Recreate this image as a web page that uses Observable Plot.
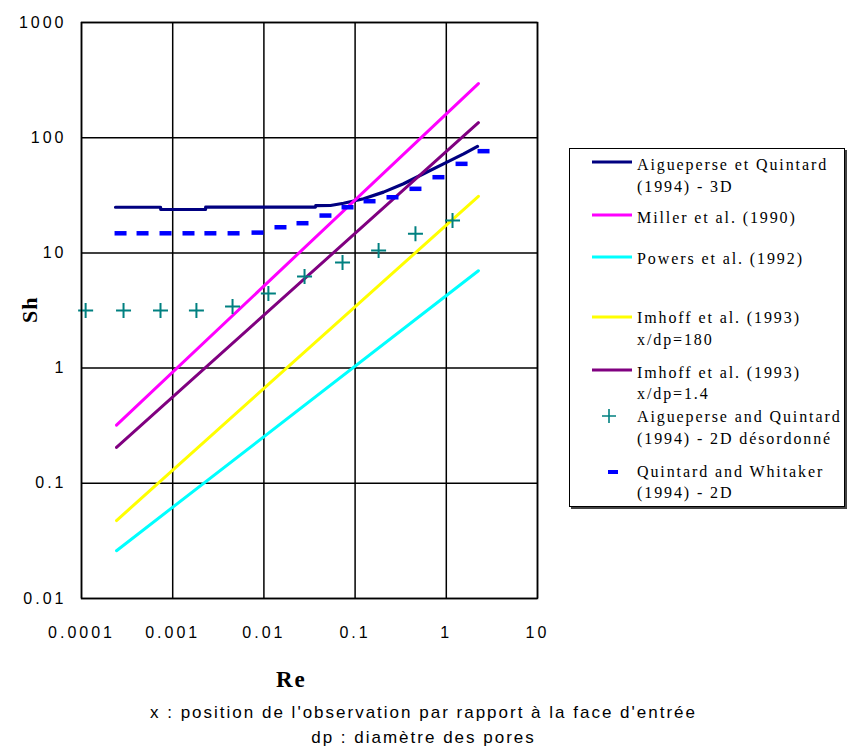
<!DOCTYPE html>
<html><head><meta charset="utf-8">
<script src="https://cdn.jsdelivr.net/npm/d3@7"></script>
<script src="https://cdn.jsdelivr.net/npm/@observablehq/plot@0.6"></script>
<style>
body{margin:0;background:#fff;}
#wrap{position:relative;width:847px;height:749px;overflow:hidden;font-family:"Liberation Sans",Arial,sans-serif;color:#000;}
#chart{position:absolute;left:0;top:0;}
#chart g[aria-label="x-axis tick label"] text,#chart g[aria-label="y-axis tick label"] text{letter-spacing:3px;}
.lbl{position:absolute;white-space:nowrap;}
.leg{position:absolute;white-space:nowrap;font-family:"Liberation Serif","Times New Roman",serif;font-size:16px;letter-spacing:1.9px;line-height:20px;}
#legendBox{position:absolute;left:569px;top:148px;width:276px;height:359px;border:1px solid #000;box-shadow:2px 2px 0 #444;box-sizing:border-box;}
.foot{position:absolute;width:847px;left:-2px;text-align:center;font-size:17px;letter-spacing:2px;line-height:20px;}
</style></head>
<body><div id="wrap"><div id="chart"></div></div>
<script>
// ---- data ----
const xTicks = [0.0001, 0.001, 0.01, 0.1, 1, 10];
const yTicks = [0.01, 0.1, 1, 10, 100, 1000];

const aq3dRe = [2.36e-4, 7.35e-4, 7.4e-4, 2.29e-3, 2.3e-3, 0.0368, 0.037, 0.0537, 0.0747, 0.124, 0.205, 0.340, 0.563, 0.932, 1.55, 2.20];
const aq3dSh = [24.9, 24.9, 23.8, 23.8, 25.0, 25.0, 25.7, 25.8, 27.0, 29.5, 33.7, 39.8, 48.6, 59.3, 72.4, 84];

const lawRe = [2.42e-4, 2.25];
const millerSh = [0.32, 295];
const powersSh = [0.026, 7.0];
const imhoff180Sh = [0.0475, 31];
const imhoff14Sh = [0.205, 135];

const aq2dRe = [1.11e-4, 2.89e-4, 7.35e-4, 1.82e-3, 4.53e-3, 0.0112, 0.0279, 0.0728, 0.181, 0.459, 1.17];
const aq2dSh = [3.16, 3.16, 3.16, 3.16, 3.43, 4.45, 6.24, 8.26, 10.5, 14.7, 19.1];

const qwRe = [2.68e-4, 4.67e-4, 8.34e-4, 1.49e-3, 2.59e-3, 4.65e-3, 8.51e-3, 0.0152, 0.0265, 0.0473, 0.0826, 0.144, 0.257, 0.459, 0.820, 1.47, 2.56];
const qwSh = [14.8, 14.8, 14.8, 14.8, 14.8, 14.8, 15.0, 16.7, 18.1, 21.1, 24.9, 28.1, 30.4, 36, 45.4, 59.3, 76.4];

const seriesNames = [
  ["Aigueperse et Quintard", "(1994) - 3D"],
  ["Miller et al. (1990)"],
  ["Powers et al. (1992)"],
  ["Imhoff et al. (1993)", "x/dp=180"],
  ["Imhoff et al. (1993)", "x/dp=1.4"],
  ["Aigueperse and Quintard", "(1994) - 2D désordonné"],
  ["Quintard and Whitaker", "(1994) - 2D"]
];
const colors = ["#000080", "#FF00FF", "#00FFFF", "#FFFF00", "#800080", "#008080", "#0000FF"];
const xLabel = "Re", yLabel = "Sh";
const notes = ["x : position de l'observation par rapport à la face d'entrée", "dp : diamètre des pores"];

// ---- build ----
const zip = (xs, ys) => xs.map((x, i) => ({x, y: ys[i]}));
const dashSym = {draw(ctx) { ctx.rect(-6, -2.25, 12, 4.5); }};
const crossSym = {draw(ctx) { ctx.moveTo(-7.5, 0); ctx.lineTo(7.5, 0); ctx.moveTo(0, -7.5); ctx.lineTo(0, 7.5); }};

const chart = Plot.plot({
  width: 847, height: 749,
  marginLeft: 81, marginRight: 310, marginTop: 22, marginBottom: 151,
  style: {fontFamily: "Liberation Sans, Arial, sans-serif", fontSize: "16px", color: "black", background: "white", overflow: "visible"},
  x: {type: "log", domain: [1e-4, 10], ticks: xTicks, tickFormat: d => String(d), tickSize: 0, tickPadding: 28, label: null},
  y: {type: "log", domain: [0.01, 1000], ticks: yTicks, tickFormat: d => String(d), tickSize: 0, tickPadding: 15, label: null},
  marks: [
    Plot.ruleX(xTicks, {stroke: "black", strokeWidth: 1.5}),
    Plot.ruleY(yTicks, {stroke: "black", strokeWidth: 1.5}),
    Plot.line(zip(aq3dRe, aq3dSh), {x: "x", y: "y", stroke: colors[0], strokeWidth: 3.2, curve: "linear"}),
    Plot.line(zip(lawRe, millerSh), {x: "x", y: "y", stroke: colors[1], strokeWidth: 3}),
    Plot.line(zip(lawRe, powersSh), {x: "x", y: "y", stroke: colors[2], strokeWidth: 3}),
    Plot.line(zip(lawRe, imhoff180Sh), {x: "x", y: "y", stroke: colors[3], strokeWidth: 3}),
    Plot.line(zip(lawRe, imhoff14Sh), {x: "x", y: "y", stroke: colors[4], strokeWidth: 3}),
    Plot.dot(zip(aq2dRe, aq2dSh), {x: "x", y: "y", symbol: crossSym, stroke: colors[5], strokeWidth: 2, fill: "none"}),
    Plot.dot(zip(qwRe, qwSh), {x: "x", y: "y", symbol: dashSym, fill: colors[6], stroke: "none"}),
    Plot.frame({stroke: "black", strokeWidth: 1.5})
  ]
});
const wrap = document.getElementById("wrap");
document.getElementById("chart").appendChild(chart);

function addDiv(cls, text, left, top, extra) {
  const d = document.createElement("div");
  d.className = cls; d.textContent = text;
  d.style.left = left + "px"; d.style.top = top + "px";
  if (extra) Object.assign(d.style, extra);
  wrap.appendChild(d);
  return d;
}
// axis titles
addDiv("lbl", yLabel, 17, 299, {fontFamily: "Liberation Serif, serif", fontWeight: "bold", fontSize: "22px", letterSpacing: "1px", transform: "rotate(-90deg)", transformOrigin: "12px 12px"});
addDiv("lbl", xLabel, 276, 667, {fontFamily: "Liberation Serif, serif", fontWeight: "bold", fontSize: "23px", letterSpacing: "2px"});
addDiv("foot", notes[0], 0, 703);
addDiv("foot", notes[1], 0, 728);

// legend
const box = document.createElement("div"); box.id = "legendBox"; wrap.appendChild(box);
const legSampleY = [162, 215, 257, 317, 370, 416, 472];
const legTextY = [[165, 187], [218], [259], [318, 340], [373, 394], [417, 439], [472, 493]];
seriesNames.forEach((lines, i) => {
  lines.forEach((t, j) => addDiv("leg", t, 637, legTextY[i][j] - 10));
  const s = document.createElementNS("http://www.w3.org/2000/svg", "svg");
  s.setAttribute("width", 44); s.setAttribute("height", 20);
  s.style.position = "absolute"; s.style.left = "590px"; s.style.top = (legSampleY[i] - 10) + "px";
  let el;
  if (i < 5) {
    el = document.createElementNS(s.namespaceURI, "line");
    el.setAttribute("x1", 2); el.setAttribute("x2", 42); el.setAttribute("y1", 10); el.setAttribute("y2", 10);
    el.setAttribute("stroke", colors[i]); el.setAttribute("stroke-width", 3);
  } else if (i === 5) {
    el = document.createElementNS(s.namespaceURI, "path");
    el.setAttribute("d", "M12,10H26M19,3V17"); el.setAttribute("stroke", colors[i]); el.setAttribute("stroke-width", 1.6); el.setAttribute("fill", "none");
  } else {
    el = document.createElementNS(s.namespaceURI, "rect");
    el.setAttribute("x", 18); el.setAttribute("y", 8); el.setAttribute("width", 10); el.setAttribute("height", 4); el.setAttribute("fill", colors[i]);
  }
  s.appendChild(el); wrap.appendChild(s);
});
</script></body></html>
